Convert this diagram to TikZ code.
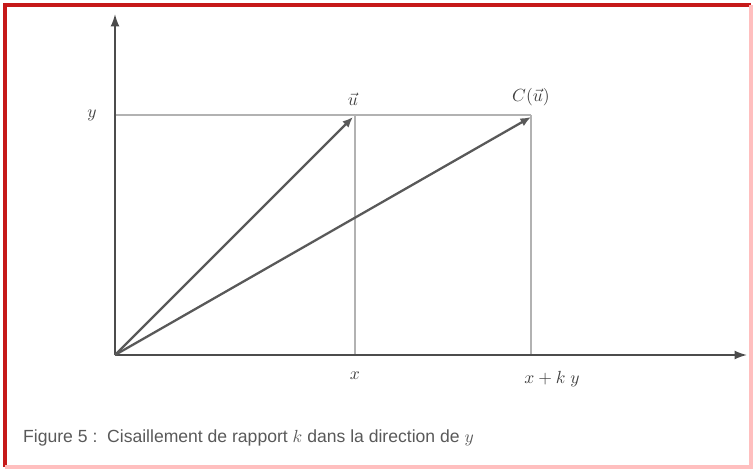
\documentclass[tikz,border=0pt]{standalone}
\usepackage{amsmath,amssymb}
\usepackage{fontspec}
\newfontfamily\capfont{Liberation Sans}
\usepackage{tikz}
\usetikzlibrary{arrows.meta,positioning,calc}

\begin{document}
\begin{tikzpicture}[
                    x=0.02cm, y=-0.02cm,
                    axis/.style={draw=black!70, line width=0.9pt, -{Latex[length=7pt,width=5pt]}},
                    guide/.style={draw=black!30, line width=0.7pt},
                    vec/.style={draw=black!65, line width=1.3pt, -{Latex[length=6pt,width=5pt]}},
                    lbl/.style={text=black!75, font=\normalsize},
                    frame/.style={draw=red!75!black!90, line width=1.8pt}
                ]
                    \useasboundingbox (0,0) rectangle (755,470);
                    % frame
                    \draw[frame] (5,467) -- (5,5) -- (751,5);
                    \draw[frame, draw=red!25] (5,467) -- (751,467) -- (751,5);

                    \coordinate (O) at (115,355);
                    \coordinate (ytip) at (115,14);
                    \coordinate (xtip) at (747,355);
                    \coordinate (yy) at (115,115);
                    \coordinate (u) at (353,117);
                    \coordinate (Cu) at (531,117);
                    \coordinate (xx) at (355,355);
                    \coordinate (xk) at (531,355);

                    % guides
                    \draw[guide] (yy) -- (Cu |- yy);
                    \draw[guide] (xx |- yy) -- (xx);
                    \draw[guide] (Cu |- yy) -- (xk);

                    % axes
                    \draw[axis] (O) -- (ytip);
                    \draw[axis] (O) -- (xtip);

                    % vectors
                    \draw[vec] (O) -- (u);
                    \draw[vec] (O) -- (Cu);

                    \node[lbl, left=7pt of yy] (ylab) {$y$};
                    \node[lbl, above=3pt of u] (ulab) {$\vec{u}$};
                    \node[lbl, above=3pt of Cu] (Culab) {$C(\vec{u})$};
                    \node[lbl, below=6pt of xx] (xlab) {$x$};
                    \node[lbl, below=6pt of xk, xshift=12pt] (xklab) {$x+k\;y$};

                    \node[anchor=west, text=black!65, font=\capfont\fontsize{10}{12}\selectfont] (cap) at (17,438)
                        {Figure 5 :\ \ Cisaillement de rapport $k$ dans la direction de $y$};
                \end{tikzpicture}
\end{document}
